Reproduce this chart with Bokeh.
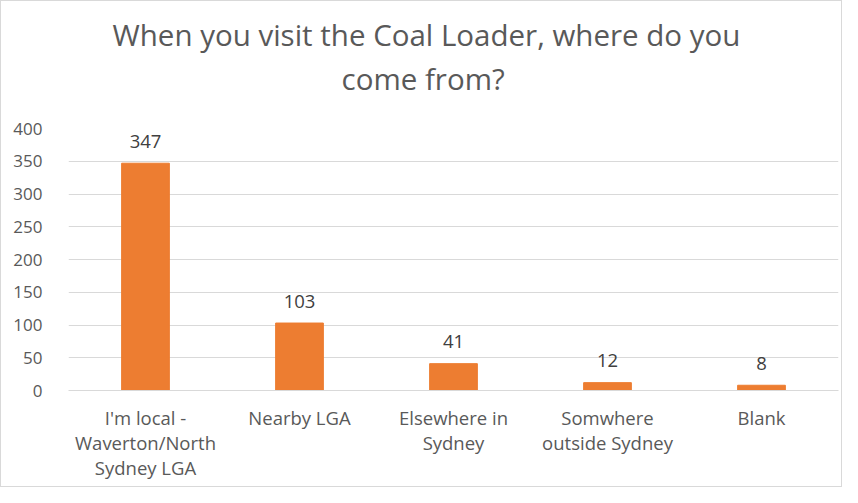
from bokeh.plotting import figure
from bokeh.models import ColumnDataSource, FactorRange, Range1d, FixedTicker, Title
from bokeh.core.properties import value
from bokeh.embed import file_html
from bokeh.resources import INLINE

categories = ["I'm local -\nWaverton/North\nSydney LGA", "Nearby LGA", "Elsewhere in\nSydney", "Somwhere\noutside Sydney", "Blank"]
counts = [347, 103, 41, 12, 8]
y_ticks = [0, 50, 100, 150, 200, 250, 300, 350, 400]
title_lines = ["When you visit the Coal Loader, where do you", "come from?"]

FONT = "Open Sans"
GRAY = "#595959"

src = ColumnDataSource(dict(cat=categories, val=counts, lab=[str(v) for v in counts]))

p = figure(x_range=FactorRange(*categories, range_padding=0), y_range=Range1d(0, 400),
           width=842, height=487, output_backend="svg", toolbar_location=None,
           min_border_left=67, min_border_right=5, min_border_top=127, min_border_bottom=98)
p.title.visible = False
# first added sits closest to the plot
p.add_layout(Title(text=title_lines[1], align="left", offset=273, text_font=FONT, text_font_size="29.5px",
                   text_font_style="normal", text_color=GRAY, standoff=59), "above")
p.add_layout(Title(text=title_lines[0], align="left", offset=44, text_font=FONT, text_font_size="29.5px",
                   text_font_style="normal", text_color=GRAY, standoff=-57), "above")

p.vbar(x="cat", top="val", width=0.31, source=src, color="#ED7D31")
p.text(x="cat", y="val", text="lab", source=src, y_offset=-22, text_align="center",
       text_baseline="middle", text_font=value(FONT), text_font_size="18.5px", text_color="#404040")

p.outline_line_color = None
p.xgrid.grid_line_color = None
p.ygrid.grid_line_color = "#D9D9D9"
p.ygrid.ticker = FixedTicker(ticks=y_ticks)
p.yaxis.ticker = FixedTicker(ticks=y_ticks)
p.yaxis.axis_line_color = None
p.yaxis.major_tick_line_color = None
p.yaxis.minor_tick_line_color = None
p.yaxis.major_label_standoff = 20
p.xaxis.axis_line_color = "#D9D9D9"
p.xaxis.major_tick_line_color = None
p.xaxis.major_label_standoff = 8
for ax in (p.xaxis, p.yaxis):
    ax.major_label_text_font = FONT
    ax.major_label_text_color = GRAY
p.yaxis.major_label_text_font_size = "17px"
p.xaxis.major_label_text_font_size = "18.5px"
p.xaxis.major_label_text_line_height = 1.0
p.styles = {"border": "1px solid #D9D9D9", "box-sizing": "border-box"}

open("out.html", "w").write(file_html(p, INLINE))
